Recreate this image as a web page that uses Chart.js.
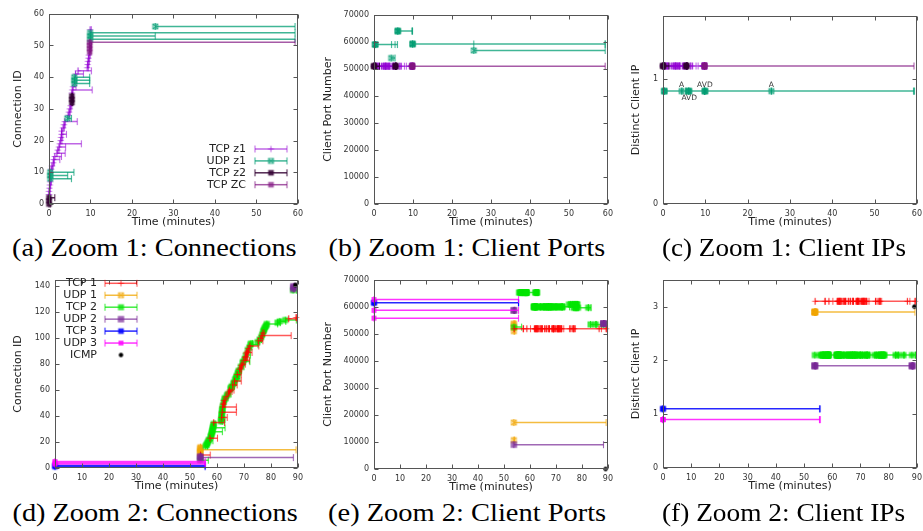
<!DOCTYPE html>
<html>
<head>
<meta charset="utf-8">
<script src="https://cdn.jsdelivr.net/npm/chart.js@4/dist/chart.umd.min.js"></script>
<style>
  html, body { margin: 0; padding: 0; background: #fff; width: 923px; height: 531px; overflow: hidden; position: relative; }
  canvas { position: absolute; }
  .caption { position: absolute; font-family: "Liberation Serif", "DejaVu Serif", serif; font-size: 26px; line-height: 30px; white-space: nowrap; color: #000; transform-origin: 50% 50%; }
</style>
</head>
<body>
<script>
// ---------------- Zoom 1 connections: [start (min), end (min), connection id, client port] ----------------
const z1TcpZ1 = [
  [0.0, 0.2, 3, 51000], [0.0, 0.2, 4, 51000], [0.1, 0.3, 5, 51000], [0.2, 0.4, 6, 51000], [0.3, 0.6, 7, 51000],
  [0.5, 0.8, 11, 51000], [0.7, 1.0, 12, 51000], [1.0, 1.3, 13, 51000], [1.1, 2.6, 14, 51000], [1.4, 3.0, 15, 51000],
  [1.9, 3.9, 16, 51000], [2.1, 2.4, 17, 51000], [2.4, 4.0, 18, 51000], [2.6, 7.8, 19, 51000], [2.8, 3.1, 20, 51000],
  [2.9, 3.3, 21, 51000], [3.0, 4.2, 22, 51000], [3.0, 3.3, 23, 51000], [3.4, 3.7, 24, 51000], [3.6, 3.9, 25, 51000],
  [3.8, 6.8, 26, 51000], [4.6, 4.9, 28, 51000], [4.8, 5.1, 29, 51000], [5.0, 5.3, 30, 51000], [5.2, 5.5, 31, 51000],
  [5.5, 5.8, 35, 51000], [5.6, 10.4, 36, 51000], [5.8, 6.5, 37, 51000], [6.4, 8.3, 41, 51000], [7.0, 10.2, 42, 51000],
  [9.2, 9.5, 43, 51000], [9.3, 9.6, 44, 51000], [9.4, 9.7, 45, 51000], [9.5, 9.8, 46, 51000], [9.6, 9.9, 47, 51000],
  [9.9, 10.2, 55, 51000]
];
const z1UdpZ1 = [
  [0.3, 5.4, 8, 59000], [0.3, 4.5, 9, 59000], [0.3, 6.0, 10, 59000], [4.4, 5.4, 27, 54000],
  [6.1, 9.8, 38, 64000], [6.1, 9.8, 39, 64000], [6.1, 9.8, 40, 64000],
  [9.9, 59.3, 52, 59200], [9.9, 25.6, 53, 59200], [9.9, 59.3, 54, 59200], [25.6, 59.3, 56, 56800]
];
const z1TcpZ2 = [
  [0.0, 0.3, 0, 51000], [0.0, 0.4, 1, 51000], [0.0, 1.4, 2, 51000],
  [5.5, 5.7, 32, 51000], [5.5, 5.8, 33, 51000], [5.5, 5.6, 34, 51000]
];
const z1TcpZC = [
  [9.8, 10.1, 48, 51000], [9.8, 10.0, 49, 51000], [9.8, 10.2, 50, 51000], [9.8, 59.3, 51, 51000]
];
// UDP application labels on the client-IP view: [time, label, above(1)/below(-1)]
const z1IpNotes = [[4.4, 'A', 1], [6.2, 'AVD', -1], [9.9, 'AVD', 1], [25.6, 'A', 1]];

// ---------------- Zoom 2 connections ----------------
const z2Tcp1 = [
  [53.9, 57.5, 10, 51900], [57.4, 60.2, 23, 51900], [58.8, 62.8, 35, 51900], [61.7, 63.8, 39, 51900],
  [61.9, 67.2, 43, 51900], [62.1, 67.2, 47, 51900], [62.3, 62.7, 49, 51900], [62.4, 63.0, 50, 51900],
  [62.6, 63.1, 52, 51900], [63.4, 64.0, 55, 51900], [64.3, 64.8, 58, 51900], [64.5, 65.6, 59, 51900],
  [64.7, 66.3, 60, 51900], [65.8, 67.5, 64, 51900], [66.5, 69.0, 67, 51900], [67.5, 69.0, 72, 51900],
  [68.4, 68.9, 76, 51900], [68.6, 69.2, 77, 51900], [69.0, 69.6, 79, 51900], [69.3, 70.5, 80, 51900],
  [69.9, 72.0, 83, 51900], [70.4, 71.0, 85, 51900], [70.6, 71.3, 86, 51900], [70.8, 71.5, 88, 51900],
  [71.0, 73.0, 89, 51900], [71.2, 71.7, 90, 51900], [71.6, 72.2, 92, 51900], [72.2, 75.5, 94, 51900],
  [75.3, 77.0, 98, 51900], [76.2, 76.8, 100, 51900], [76.6, 87.5, 102, 51900], [77.0, 77.5, 104, 51900],
  [86.6, 89.7, 115, 51900], [89.3, 89.6, 116, 51900]
];
const z2Udp1 = [
  [53.8, 54.0, 11, 10700], [53.8, 54.2, 12, 53800], [53.8, 54.1, 13, 51000],
  [53.8, 89.3, 14, 17200], [53.8, 54.3, 15, 52200], [53.8, 54.0, 16, 53300]
];
const z2Tcp2 = [
  [53.8, 56.8, 6, 52500],
  [55.8, 56.5, 17, 65300], [56.1, 57.0, 18, 65300], [56.4, 56.8, 19, 65300], [56.6, 57.2, 20, 65300],
  [56.9, 58.5, 21, 65300], [57.1, 57.6, 22, 65300], [57.6, 58.0, 24, 65300], [57.8, 58.3, 25, 65300],
  [58.0, 58.5, 26, 65300], [58.1, 58.6, 27, 65300], [58.2, 62.0, 28, 65300], [58.3, 58.8, 29, 65300],
  [58.4, 59.0, 30, 65300], [58.5, 63.0, 31, 65300], [58.6, 59.1, 32, 65300], [58.7, 59.2, 33, 65300],
  [58.8, 59.3, 34, 65300],
  [61.5, 62.0, 36, 60000], [61.6, 63.0, 37, 60000], [61.6, 62.1, 38, 60000], [61.7, 62.2, 40, 60000],
  [61.8, 62.3, 41, 60000], [61.8, 62.2, 42, 60000], [61.9, 62.4, 44, 60000], [62.0, 62.5, 45, 60000],
  [62.0, 62.6, 46, 65300], [62.2, 62.8, 48, 65300], [62.5, 63.2, 51, 65300], [62.8, 63.4, 53, 65300],
  [63.0, 64.1, 54, 60000], [63.7, 64.2, 56, 60000], [64.0, 65.2, 57, 60000], [65.0, 65.6, 61, 60000],
  [65.2, 65.8, 62, 60000], [65.5, 66.5, 63, 60000], [66.1, 66.6, 65, 60000], [66.3, 67.2, 66, 60000],
  [66.7, 67.2, 68, 60000], [67.0, 68.5, 69, 60000], [67.2, 67.7, 70, 60000], [67.3, 67.9, 71, 60000],
  [67.7, 68.2, 73, 60000], [67.9, 68.4, 74, 60000], [68.1, 69.0, 75, 60000], [68.8, 70.0, 78, 60000],
  [69.5, 70.0, 81, 60000], [69.7, 72.2, 82, 60000], [70.2, 70.8, 84, 60000], [70.7, 72.4, 87, 60000],
  [71.4, 71.9, 91, 60000], [72.0, 72.6, 93, 60000], [72.4, 75.2, 95, 60000], [72.6, 73.2, 96, 60000],
  [75.0, 75.6, 97, 60900], [75.8, 76.5, 99, 60900], [76.4, 77.0, 101, 60900], [76.8, 77.4, 103, 59700],
  [77.1, 77.7, 105, 60900], [77.3, 78.0, 106, 59700], [77.5, 78.1, 107, 60900], [77.7, 78.2, 108, 60900],
  [78.0, 78.5, 109, 59700], [78.3, 78.8, 110, 60900], [78.5, 82.5, 111, 59700], [82.4, 83.5, 112, 59700],
  [83.3, 85.5, 113, 53500], [85.3, 89.4, 114, 53500], [88.2, 89.5, 137, 53500]
];
const z2Udp2 = [
  [53.8, 54.2, 7, 58700], [53.8, 88.3, 8, 9000], [53.8, 54.1, 9, 58700],
  [88.3, 88.6, 138, 53800], [88.3, 88.5, 139, 53800], [88.3, 88.7, 140, 53800]
];
const z2Tcp3 = [[0.0, 55.6, 1, 61500], [0.0, 55.6, 2, 61500]];
const z2Udp3 = [[0.0, 55.6, 3, 62700], [0.0, 55.6, 4, 58700], [0.0, 55.6, 5, 55800]];
const z2Icmp = [[89.1, 89.1, 141, 0]];

// ---------------- series styling (layer: higher is drawn later) ----------------
const z1Series = [
  { name: 'TCP z1', rows: z1TcpZ1, ip: 1.1, color: 'rgba(148,0,211,0.6)', mark: 'plus', size: 3, layer: 0 },
  { name: 'UDP z1', rows: z1UdpZ1, ip: 0.9, color: 'rgba(0,158,115,0.75)', mark: 'xbox', size: 2.4, layer: 1 },
  { name: 'TCP z2', rows: z1TcpZ2, ip: 1.1, color: 'rgba(50,0,50,0.85)', mark: 'fbox', size: 2.8, layer: 2 },
  { name: 'TCP ZC', rows: z1TcpZC, ip: 1.1, color: 'rgba(128,20,128,0.7)', mark: 'fbox', size: 2.8, layer: 3 }
];
const z2Series = [
  { name: 'TCP 1', rows: z2Tcp1, ip: 3.1, color: 'rgba(255,0,0,0.65)', mark: 'plus', size: 3, layer: 3 },
  { name: 'UDP 1', rows: z2Udp1, ip: 2.9, color: 'rgba(240,165,0,0.75)', mark: 'xbox', size: 2.4, layer: 1 },
  { name: 'TCP 2', rows: z2Tcp2, ip: 2.1, color: 'rgba(0,230,0,0.75)', mark: 'fbox', size: 3, layer: 2 },
  { name: 'UDP 2', rows: z2Udp2, ip: 1.9, color: 'rgba(120,40,150,0.7)', mark: 'fbox', size: 3.2, layer: 4 },
  { name: 'TCP 3', rows: z2Tcp3, ip: 1.1, color: 'rgba(0,0,255,0.85)', mark: 'fbox', size: 2.8, layer: 5 },
  { name: 'UDP 3', rows: z2Udp3, ip: 0.9, color: 'rgba(255,0,255,0.8)', mark: 'fbox', size: 2.5, layer: 6 },
  { name: 'ICMP', rows: z2Icmp, ip: 3.0, color: '#000', mark: 'dot', size: 2.2, pointsOnly: true, layer: 7 }
];

const SANS = '"DejaVu Sans", sans-serif';
Chart.defaults.font.family = SANS;

// small marker sprites used as point styles
function sprite(color, mark, size, withCap) {
  const c = document.createElement('canvas');
  c.width = 13; c.height = 13;
  const g = c.getContext('2d');
  const m = 6.5, s = size;
  g.strokeStyle = color; g.fillStyle = color; g.lineWidth = 1.1;
  if (withCap) { g.beginPath(); g.moveTo(m, m - 3.5); g.lineTo(m, m + 3.5); g.stroke(); }
  g.beginPath();
  if (mark === 'plus') { g.moveTo(m - s, m); g.lineTo(m + s, m); g.moveTo(m, m - s); g.lineTo(m, m + s); g.stroke(); }
  else if (mark === 'xbox') { g.strokeRect(m - s, m - s, 2 * s, 2 * s); g.moveTo(m - s, m - s); g.lineTo(m + s, m + s); g.moveTo(m + s, m - s); g.lineTo(m - s, m + s); g.stroke(); }
  else if (mark === 'fbox') { g.fillRect(m - s, m - s, 2 * s, 2 * s); }
  else if (mark === 'dot') { g.arc(m, m, s, 0, Math.PI * 2); g.fill(); }
  return c;
}
for (const s of [...z1Series, ...z2Series]) {
  s.startImg = sprite(s.color, s.mark, s.size, !s.pointsOnly);
  s.markImg = sprite(s.color, s.mark, s.size, false);
  s.capImg = sprite(s.color, null, 0, true);
}

function yValue(row, s, field) {
  if (field === 'id') return row[2];
  if (field === 'port') return row[3];
  return s.ip;
}

function makeDatasets(series, field) {
  return series.map((s) => {
    const data = [];
    for (const r of s.rows) {
      const v = yValue(r, s, field);
      if (s.pointsOnly) { data.push({ x: r[0], y: v }); continue; }
      data.push({ x: r[0], y: v }, { x: r[1], y: v }, { x: r[1], y: null });
    }
    return {
      label: s.name, data,
      order: -s.layer,
      showLine: !s.pointsOnly,
      borderColor: s.color, backgroundColor: s.color, borderWidth: 1.5,
      spanGaps: false, fill: false, tension: 0, clip: false,
      pointRadius: 3, pointHoverRadius: 3,
      pointStyle: (c) => (s.pointsOnly || c.dataIndex % 3 === 0 ? s.startImg : s.capImg)
    };
  });
}

const W = 60, PADT = 6, PADR = 8, XH = 26;

const panels = [
  { L: 49, T: 10, R: 300, B: 204, xMax: 60, yMax: 60, yStep: 10, field: 'id', yTitle: 'Connection ID', titleOff: 31, series: z1Series,
    legend: { right: 246, top: 149, dy: 11.9, x1: 255, x2: 287 } },
  { L: 374, T: 11, R: 610, B: 204, xMax: 60, yMax: 70000, yStep: 10000, field: 'port', yTitle: 'Client Port Number', titleOff: 46, series: z1Series },
  { L: 663, T: 12, R: 919, B: 204, xMax: 60, yMax: 1.5, yStep: 1, field: 'ip', yTitle: 'Distinct Client IP', titleOff: 27, series: z1Series, notes: z1IpNotes },
  { L: 55, T: 276, R: 300, B: 468, xMax: 90, yMax: 145, yStep: 20, field: 'id', yTitle: 'Connection ID', titleOff: 37, series: z2Series,
    legend: { right: 97, top: 283.3, dy: 11.95, x1: 105, x2: 137 } },
  { L: 374, T: 276, R: 610, B: 469, xMax: 90, yMax: 70000, yStep: 10000, field: 'port', yTitle: 'Client Port Number', titleOff: 46, series: z2Series },
  { L: 663, T: 276, R: 919, B: 468, xMax: 90, yMax: 3.5, yStep: 1, field: 'ip', yTitle: 'Distinct Client IP', titleOff: 27, series: z2Series }
];

// border frame with inward ticks on all four sides, plus legend and text notes
const framePlugin = {
  id: 'frame',
  afterDatasetsDraw(chart, args, opts) {
    const { ctx, chartArea: a, scales: { x, y } } = chart;
    const p = opts.panel;
    ctx.save();
    ctx.strokeStyle = '#555';
    ctx.lineWidth = 1;
    const l = Math.round(a.left) + 0.5, r = Math.round(a.right) - 0.5;
    const t = Math.round(a.top) + 0.5, b = Math.round(a.bottom) - 0.5;
    ctx.strokeRect(l, t, r - l, b - t);
    ctx.beginPath();
    for (const tk of x.ticks) {
      const px = Math.round(x.getPixelForValue(tk.value)) + 0.5;
      ctx.moveTo(px, b); ctx.lineTo(px, b - 4);
      ctx.moveTo(px, t); ctx.lineTo(px, t + 4);
    }
    for (const tk of y.ticks) {
      const py = Math.round(y.getPixelForValue(tk.value)) + 0.5;
      ctx.moveTo(l, py); ctx.lineTo(l + 4, py);
      ctx.moveTo(r, py); ctx.lineTo(r - 4, py);
    }
    ctx.stroke();

    const ox = p.L - W, oy = p.T - PADT;
    if (p.legend) {
      const lg = p.legend;
      ctx.font = '11px ' + SANS;
      ctx.textAlign = 'right';
      ctx.textBaseline = 'middle';
      p.series.forEach((s, i) => {
        const yy = lg.top + i * lg.dy - oy;
        ctx.fillStyle = '#222';
        ctx.fillText(s.name, lg.right - ox, yy);
        const x1 = lg.x1 - ox, x2 = lg.x2 - ox, xm = (x1 + x2) / 2;
        if (!s.pointsOnly) {
          ctx.strokeStyle = s.color; ctx.lineWidth = 1.5;
          ctx.beginPath(); ctx.moveTo(x1, yy); ctx.lineTo(x2, yy); ctx.stroke();
          ctx.drawImage(s.capImg, x1 - 6.5, yy - 6.5);
          ctx.drawImage(s.capImg, x2 - 6.5, yy - 6.5);
        }
        ctx.drawImage(s.markImg, xm - 6.5, yy - 6.5);
      });
    }
    if (p.notes) {
      ctx.font = '7.5px ' + SANS;
      ctx.fillStyle = '#333';
      ctx.textAlign = 'center';
      ctx.textBaseline = 'middle';
      const yBase = y.getPixelForValue(0.9);
      for (const [tm, txt, side] of p.notes) {
        ctx.fillText(txt, x.getPixelForValue(tm), yBase - side * 6.5);
      }
    }
    ctx.restore();
  }
};

for (const p of panels) {
  const cv = document.createElement('canvas');
  const cw = W + (p.R - p.L) + PADR, ch = PADT + (p.B - p.T) + XH;
  cv.width = cw; cv.height = ch;
  cv.style.left = (p.L - W) + 'px';
  cv.style.top = (p.T - PADT) + 'px';
  cv.style.width = cw + 'px';
  cv.style.height = ch + 'px';
  document.body.appendChild(cv);

  new Chart(cv, {
    type: 'line',
    data: { datasets: makeDatasets(p.series, p.field) },
    plugins: [framePlugin],
    options: {
      responsive: false, animation: false, devicePixelRatio: 1, events: [],
      layout: { padding: { left: 0, top: PADT, right: PADR, bottom: 0 } },
      plugins: { legend: { display: false }, tooltip: { enabled: false }, frame: { panel: p } },
      scales: {
        x: {
          type: 'linear', min: 0, max: p.xMax,
          grid: { display: false, drawTicks: false }, border: { display: false },
          ticks: { stepSize: 10, autoSkip: false, maxRotation: 0, includeBounds: false, padding: 5,
                   font: { size: 8 }, color: '#333', callback: v => String(v) },
          title: { display: true, text: 'Time (minutes)', color: '#222', font: { size: 11 }, padding: { top: 0, bottom: 1.4 } },
          afterFit: s => { s.height = XH; }
        },
        y: {
          type: 'linear', min: 0, max: p.yMax,
          grid: { display: false, drawTicks: false }, border: { display: false },
          ticks: { stepSize: p.yStep, autoSkip: false, includeBounds: false, padding: 5,
                   font: { size: 8 }, color: '#333', callback: v => String(v) },
          title: { display: true, text: p.yTitle, color: '#222', font: { size: 11 },
                   padding: { top: W - p.titleOff - 6.6, bottom: 0 } },
          afterFit: s => { s.width = W; }
        }
      }
    }
  });
}

// figure captions
const captions = [
  ['(a) Zoom 1: Connections', 154.5, 250, 285], ['(b) Zoom 1: Client Ports', 466.5, 250, 277], ['(c) Zoom 1: Client IPs', 784, 250, 244],
  ['(d) Zoom 2: Connections', 154.5, 515, 285], ['(e) Zoom 2: Client Ports', 467, 515, 278], ['(f) Zoom 2: Client IPs', 783.5, 515, 243]
];
for (const [txt, cx, cy, wTarget] of captions) {
  const d = document.createElement('div');
  d.className = 'caption';
  d.textContent = txt;
  document.body.appendChild(d);
  const w = d.offsetWidth;
  d.style.left = (cx - w / 2) + 'px';
  d.style.top = (cy - 17) + 'px';
  d.style.transform = 'scaleX(' + (wTarget / w).toFixed(3) + ')';
}
</script>
</body>
</html>
